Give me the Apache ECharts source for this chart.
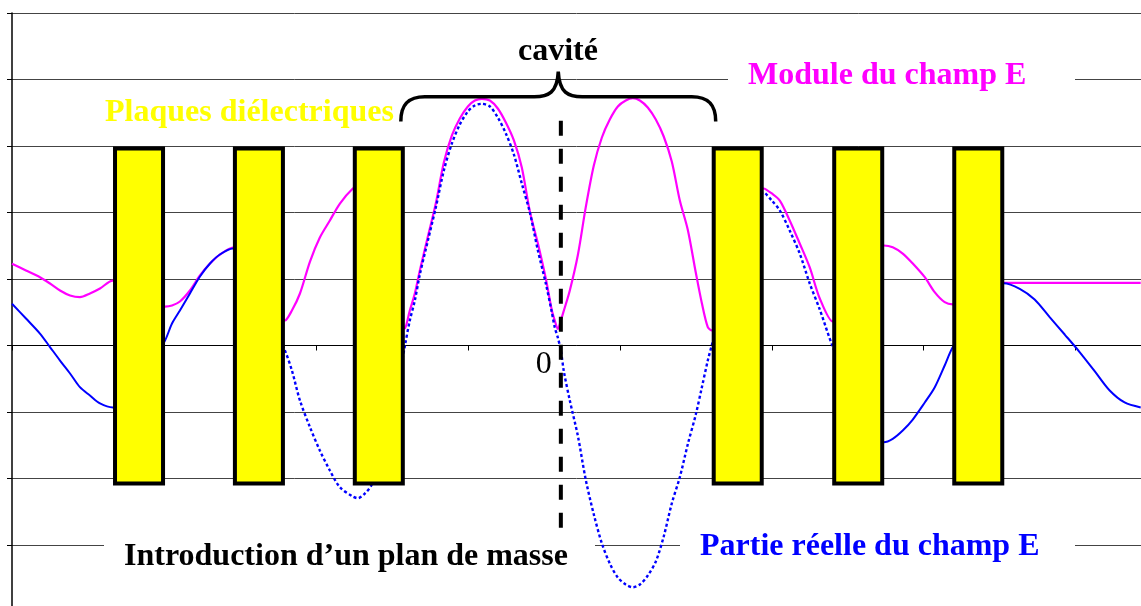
<!DOCTYPE html>
<html>
<head>
<meta charset="utf-8">
<script src="https://cdn.jsdelivr.net/npm/echarts@6/dist/echarts.min.js"></script>
<style>
  html, body { margin: 0; padding: 0; background: #ffffff; }
  #chart { width: 1141px; height: 606px; }
</style>
</head>
<body>
<div id="chart"></div>
<script>
// Position along the structure (one unit = one tick spacing, 0 = axis label)
const positions = [
  -3.5, -3.408, -3.316, -3.25, -3.184, -3.118, -3.053, -2.987, -2.921, -2.836,
  -2.664, -2.493, -2.447, -2.395, -2.329, -2.263, -2.197, -2.132, -2.046, -1.875,
  -1.704, -1.658, -1.605, -1.539, -1.474, -1.408, -1.342, -1.257, -1.224, -1.178,
  -1.132, -1.046, -0.98, -0.914, -0.882, -0.849, -0.816, -0.763, -0.711, -0.658,
  -0.605, -0.553, -0.5, -0.454, -0.408, -0.355, -0.303, -0.25, -0.197, -0.145,
  -0.092, -0.039, 0.013, 0.053, 0.072, 0.092, 0.112, 0.132, 0.171, 0.224,
  0.276, 0.329, 0.382, 0.434, 0.487, 0.539, 0.586, 0.632, 0.684, 0.737,
  0.789, 0.842, 0.895, 0.947, 1.0, 1.039, 1.079, 1.105, 1.276, 1.447,
  1.5, 1.553, 1.618, 1.684, 1.75, 1.816, 1.901, 2.066, 2.237, 2.296,
  2.362, 2.428, 2.507, 2.572, 2.638, 2.691, 2.855, 3.026, 3.132, 3.23,
  3.329, 3.428, 3.526, 3.625, 3.724, 3.822, 3.928
];

// Module du champ E
const modulus = [
  1.229, 1.128, 1.027, 0.932, 0.827, 0.752, 0.726, 0.782, 0.857, 0.977,
  0.8, 0.586, 0.602, 0.662, 0.827, 1.053, 1.233, 1.368, 1.474, 0.98,
  0.376, 0.526, 0.782, 1.263, 1.624, 1.88, 2.135, 2.361, 2.391, 2.406,
  2.361, 1.88, 1.128, 0.256, 0.526, 0.782, 1.128, 1.639, 2.135, 2.752,
  3.158, 3.414, 3.594, 3.684, 3.71, 3.684, 3.564, 3.353, 3.083, 2.677,
  2.015, 1.534, 1.008, 0.526, 0.376, 0.248, 0.376, 0.526, 0.827, 1.36,
  2.08, 2.707, 3.128, 3.398, 3.594, 3.684, 3.719, 3.684, 3.579, 3.398,
  3.143, 2.767, 2.18, 1.744, 1.098, 0.647, 0.275, 0.226, 1.5, 2.361,
  2.286, 2.18, 1.88, 1.534, 1.173, 0.707, 0.361, 1.053, 1.504, 1.478,
  1.383, 1.233, 1.027, 0.802, 0.651, 0.617, 0.93, 0.943, 0.943, 0.943,
  0.943, 0.943, 0.943, 0.943, 0.943, 0.943, 0.943
];

// Partie réelle du champ E
const realPart = [
  0.627, 0.406, 0.18, -0.023, -0.226, -0.421, -0.627, -0.752, -0.872, -0.932,
  -0.6, 0.075, 0.331, 0.526, 0.782, 1.038, 1.233, 1.368, 1.459, 0.75,
  -0.075, -0.376, -0.827, -1.229, -1.579, -1.88, -2.131, -2.271, -2.296, -2.226,
  -2.09, -1.579, -0.827, 0, 0.376, 0.677, 1.068, 1.579, 2.075, 2.632,
  3.038, 3.323, 3.519, 3.609, 3.635, 3.594, 3.429, 3.188, 2.872, 2.436,
  2.0, 1.429, 0.932, 0.496, 0.271, 0.12, -0.075, -0.391, -0.827, -1.36,
  -2.02, -2.541, -2.977, -3.278, -3.489, -3.594, -3.635, -3.594, -3.459, -3.248,
  -2.872, -2.376, -1.98, -1.489, -1.038, -0.64, -0.226, 0, 1.4, 2.301,
  2.18, 2.03, 1.729, 1.383, 0.932, 0.541, -0.015, -0.902, -1.454, -1.403,
  -1.278, -1.113, -0.857, -0.632, -0.301, -0.026, 0.526, 0.937, 0.853, 0.692,
  0.426, 0.165, -0.098, -0.385, -0.677, -0.857, -0.932
];

// Dielectric plates (centres, width, vertical extent)
const plateCentres = [-2.664, -1.875, -1.086, 1.276, 2.069, 2.859];
const plateWidth = 0.316;
const plateTop = 2.962;
const plateBottom = -2.075;

// Ground plane position, and its drawn extent
const groundPlane = 0.112;
const groundPlaneSpan = [3.38, -2.75];

// Real part drawn dotted between these positions
const dottedSpan = [-1.875, 2.066];

// Axis ticks and labels
const xTicks = [-3.5, -2.5, -1.5, -0.5, 0.5, 1.5, 2.5, 3.5];
const xLabels = [0];

const SERIF = '"Liberation Serif", "Times New Roman", serif';

const modulusPts = positions.map((x, i) => [x, modulus[i]]);
const realPts = positions.map((x, i) => [x, realPart[i]]);
const realLeft = realPts.filter(p => p[0] <= dottedSpan[0]);
const realMid = realPts.filter(p => p[0] >= dottedSpan[0] && p[0] <= dottedSpan[1]);
const realRight = realPts.filter(p => p[0] >= dottedSpan[1]);

const plateData = plateCentres.map(c => [c - plateWidth / 2, c + plateWidth / 2, plateTop, plateBottom]);
const cavity = [plateCentres[2] + plateWidth / 2, plateCentres[3] - plateWidth / 2];

const chart = echarts.init(document.getElementById('chart'), null, { renderer: 'canvas' });

function realSeries(data, dotted) {
  return {
    type: 'line',
    data: data,
    showSymbol: false,
    smooth: 0.3,
    z: 2,
    silent: true,
    lineStyle: dotted
      ? { color: '#0000ff', width: 2.4, type: [3, 2.5] }
      : { color: '#0000ff', width: 2, type: 'solid' }
  };
}

chart.setOption({
  animation: false,
  backgroundColor: '#ffffff',
  grid: { left: 12, right: 0, top: 13, height: 598.5, outerBoundsMode: 'none', containLabel: false },
  xAxis: {
    type: 'value',
    min: -3.5,
    max: 3.93,
    axisLine: { show: true, onZero: true, lineStyle: { color: '#000', width: 1 } },
    axisTick: { show: true, customValues: xTicks, length: 5, inside: false, lineStyle: { color: '#000', width: 1 } },
    axisLabel: { show: false },
    splitLine: { show: false }
  },
  yAxis: {
    type: 'value',
    min: -4,
    max: 5,
    interval: 1,
    axisLine: { show: true, onZero: false, lineStyle: { color: '#000', width: 1.5 } },
    axisTick: { show: true, length: 5, inside: false, lineStyle: { color: '#000', width: 1 } },
    axisLabel: { show: false },
    splitLine: { show: true, lineStyle: { color: '#444', width: 1 } }
  },
  series: [
    {
      type: 'line',
      data: modulusPts,
      showSymbol: false,
      smooth: 0.3,
      z: 2,
      silent: true,
      lineStyle: { color: '#ff00ff', width: 2.2 }
    },
    realSeries(realLeft, false),
    realSeries(realMid, true),
    realSeries(realRight, false),
    {
      // dielectric plates
      type: 'custom',
      z: 3,
      silent: true,
      encode: { x: [0, 1], y: [2, 3] },
      data: plateData,
      renderItem: (params, api) => {
        const p0 = api.coord([api.value(0), api.value(2)]);
        const p1 = api.coord([api.value(1), api.value(3)]);
        return {
          type: 'rect',
          shape: { x: p0[0], y: p0[1], width: p1[0] - p0[0], height: p1[1] - p0[1] },
          style: { fill: '#ffff00', stroke: '#000', lineWidth: 4 }
        };
      }
    },
    {
      // ground plane
      type: 'custom',
      z: 4,
      silent: true,
      encode: { x: 0, y: [1, 2] },
      data: [[groundPlane, groundPlaneSpan[0], groundPlaneSpan[1]]],
      renderItem: (params, api) => {
        const a = api.coord([api.value(0), api.value(1)]);
        const b = api.coord([api.value(0), api.value(2)]);
        return {
          type: 'line',
          shape: { x1: a[0], y1: a[1], x2: b[0], y2: b[1] },
          style: { stroke: '#000', lineWidth: 4, lineDash: [15, 13], lineCap: 'butt' }
        };
      }
    },
    {
      // brace over the cavity
      type: 'custom',
      z: 4,
      silent: true,
      clip: false,
      encode: { x: [0, 1] },
      data: [[cavity[0], cavity[1]]],
      renderItem: (params, api) => {
        const l = api.coord([api.value(0), 3.37]);
        const r = api.coord([api.value(1), 3.37]);
        const bar = api.coord([api.value(0), 3.74])[1];
        const tip = api.coord([api.value(0), 4.12])[1];
        const xL = l[0] - 2, xR = r[0] + 2, yE = l[1];
        const xm = (xL + xR) / 2;
        const d = [
          'M', xL, yE,
          'C', xL, bar + 7, xL + 8, bar, xL + 24, bar,
          'L', xm - 24, bar,
          'C', xm - 10, bar, xm - 1, bar - 4, xm, tip,
          'C', xm + 1, bar - 4, xm + 10, bar, xm + 24, bar,
          'L', xR - 24, bar,
          'C', xR - 8, bar, xR, bar + 7, xR, yE
        ].join(' ');
        return {
          type: 'path',
          shape: { pathData: d },
          style: { stroke: '#000', lineWidth: 3.5, fill: 'none' }
        };
      }
    },
    {
      // x-axis value labels, placed under the axis line
      type: 'custom',
      z: 5,
      silent: true,
      clip: false,
      encode: { x: 0 },
      data: xLabels.map(v => [v]),
      renderItem: (params, api) => {
        const p = api.coord([api.value(0), 0]);
        return {
          type: 'text',
          x: p[0],
          y: p[1] + 3,
          style: {
            text: String(api.value(0)),
            font: '32px ' + SERIF,
            fill: '#000',
            align: 'center',
            verticalAlign: 'top'
          }
        };
      }
    }
  ],
  graphic: [
    { type: 'rect', z: 1, shape: { x: 728, y: 72, width: 347, height: 16 }, style: { fill: '#fff' } },
    { type: 'rect', z: 1, shape: { x: 680, y: 538, width: 395, height: 14 }, style: { fill: '#fff' } },
    { type: 'rect', z: 1, shape: { x: 104, y: 538, width: 491, height: 14 }, style: { fill: '#fff' } },
    {
      type: 'text', z: 10, x: 105, y: 113,
      style: { text: 'Plaques diélectriques', font: 'bold 32px ' + SERIF, fill: '#ffff00', align: 'left', verticalAlign: 'middle' }
    },
    {
      type: 'text', z: 10, x: 558, y: 52,
      style: { text: 'cavité', font: 'bold 32px ' + SERIF, fill: '#000', align: 'center', verticalAlign: 'middle' }
    },
    {
      type: 'text', z: 10, x: 748, y: 76,
      style: { text: 'Module du champ E', font: 'bold 32px ' + SERIF, fill: '#ff00ff', align: 'left', verticalAlign: 'middle' }
    },
    {
      type: 'text', z: 10, x: 124, y: 557,
      style: { text: 'Introduction d\u2019un plan de masse', font: 'bold 32px ' + SERIF, fill: '#000', align: 'left', verticalAlign: 'middle' }
    },
    {
      type: 'text', z: 10, x: 700, y: 547,
      style: { text: 'Partie réelle du champ E', font: 'bold 32px ' + SERIF, fill: '#0000ff', align: 'left', verticalAlign: 'middle' }
    }
  ]
});
</script>
</body>
</html>
